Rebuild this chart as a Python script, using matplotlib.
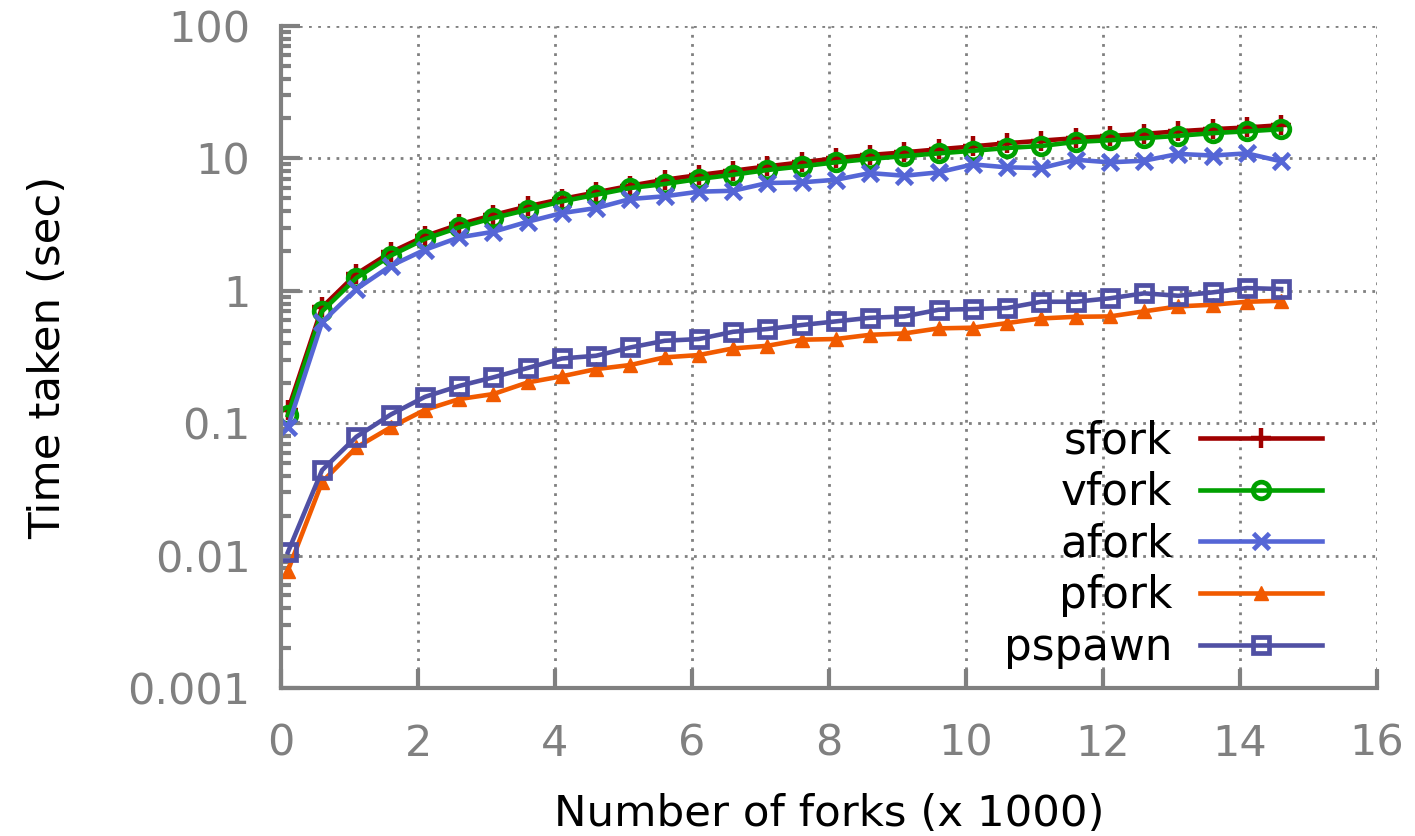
import matplotlib
matplotlib.use("Agg")
import matplotlib.pyplot as plt

# number of forks (x 1000) at which each run was measured
forks = [0.1, 0.6, 1.1, 1.6, 2.1, 2.6, 3.1, 3.6, 4.1, 4.6,
         5.1, 5.6, 6.1, 6.6, 7.1, 7.6, 8.1, 8.6, 9.1, 9.6,
         10.1, 10.6, 11.1, 11.6, 12.1, 12.6, 13.1, 13.6, 14.1, 14.6]

# time taken (sec)
sfork = [0.125, 0.75, 1.34, 1.95, 2.58, 3.17, 3.73, 4.34, 4.93, 5.53,
         6.21, 6.89, 7.48, 8.06, 8.7, 9.33, 10.0, 10.6, 11.1, 11.7,
         12.3, 13.0, 13.6, 14.2, 14.7, 15.3, 16.0, 16.6, 17.1, 17.8]
vfork = [0.115, 0.70, 1.25, 1.84, 2.46, 3.01, 3.54, 4.09, 4.73, 5.31,
         5.97, 6.4, 6.98, 7.52, 8.16, 8.7, 9.33, 9.9, 10.4, 10.9,
         11.4, 11.97, 12.4, 13.3, 13.7, 14.2, 14.8, 15.5, 16.0, 16.6]
afork = [0.094, 0.58, 1.03, 1.54, 2.04, 2.53, 2.79, 3.32, 3.86, 4.21,
         4.93, 5.17, 5.6, 5.69, 6.51, 6.59, 6.89, 7.74, 7.39, 7.84,
         9.0, 8.55, 8.45, 9.76, 9.33, 9.6, 10.8, 10.5, 10.9, 9.5]
pfork = [0.0077, 0.036, 0.0656, 0.093, 0.126, 0.152, 0.166, 0.203, 0.226, 0.256,
         0.275, 0.314, 0.327, 0.367, 0.384, 0.427, 0.432, 0.465, 0.476, 0.52,
         0.526, 0.57, 0.618, 0.636, 0.64, 0.699, 0.762, 0.784, 0.826, 0.84]
pspawn = [0.0106, 0.0442, 0.0789, 0.116, 0.158, 0.191, 0.222, 0.261, 0.308, 0.323,
          0.373, 0.419, 0.432, 0.49, 0.514, 0.551, 0.587, 0.625, 0.64, 0.719,
          0.727, 0.741, 0.826, 0.826, 0.877, 0.956, 0.917, 0.972, 1.048, 1.03]

y_ticks = [0.001, 0.01, 0.1, 1, 10, 100]
y_tick_labels = ["0.001", "0.01", "0.1", "1", "10", "100"]
x_ticks = [0, 2, 4, 6, 8, 10, 12, 14, 16]

GRAY = "#808080"
series = [
    ("sfork", sfork, dict(color="#a00000", marker="+", markersize=15, mew=3.2)),
    ("vfork", vfork, dict(color="#00a000", marker="o", markersize=12, mew=3.4, mfc="none")),
    ("afork", afork, dict(color="#5566d6", marker="x", markersize=12, mew=3.4)),
    ("pfork", pfork, dict(color="#f15a00", marker="^", markersize=10, mew=1)),
    ("pspawn", pspawn, dict(color="#5050a4", marker="s", markersize=11, mew=3.4, mfc="none")),
]

plt.rcParams["font.family"] = "DejaVu Sans"

fig = plt.figure(figsize=(14.15, 8.36), dpi=100)
ax = fig.add_axes([0.1986, 0.177, 0.7745, 0.792])

for name, vals, style in series:
    ax.plot(forks, vals, label=name, linewidth=3.3, **style)

ax.set_yscale("log")
ax.set_xlim(0, 16)
ax.set_ylim(0.001, 100)
ax.set_xticks(x_ticks)
ax.set_yticks(y_ticks)
ax.set_yticklabels(y_tick_labels)

# dotted gnuplot-style grid
ax.grid(True, which="major", color=GRAY, linestyle=(0, (1, 2.3)), linewidth=2.0)

for side in ["top", "right"]:
    ax.spines[side].set_visible(False)
for side in ["left", "bottom"]:
    ax.spines[side].set_color(GRAY)
    ax.spines[side].set_linewidth(3)

ax.tick_params(axis="both", which="major", direction="in", length=14, width=3,
               color=GRAY, labelcolor=GRAY, labelsize=31)
ax.tick_params(axis="x", which="major", pad=25)
ax.tick_params(axis="y", which="major", pad=22)
ax.tick_params(axis="y", which="minor", direction="in", length=7, width=3, color=GRAY)

ax.set_xlabel("Number of forks (x 1000)", fontsize=31.3, labelpad=20)
ax.set_ylabel("Time taken (sec)", fontsize=31.3, labelpad=42)

ax.legend(loc="upper right", bbox_to_anchor=(0.95, 0.406), frameon=False,
          markerfirst=False, fontsize=31.5, handlelength=2.8, handletextpad=0.62,
          labelspacing=0.2, borderpad=0, borderaxespad=0)

fig.savefig("out.png", dpi=100)
